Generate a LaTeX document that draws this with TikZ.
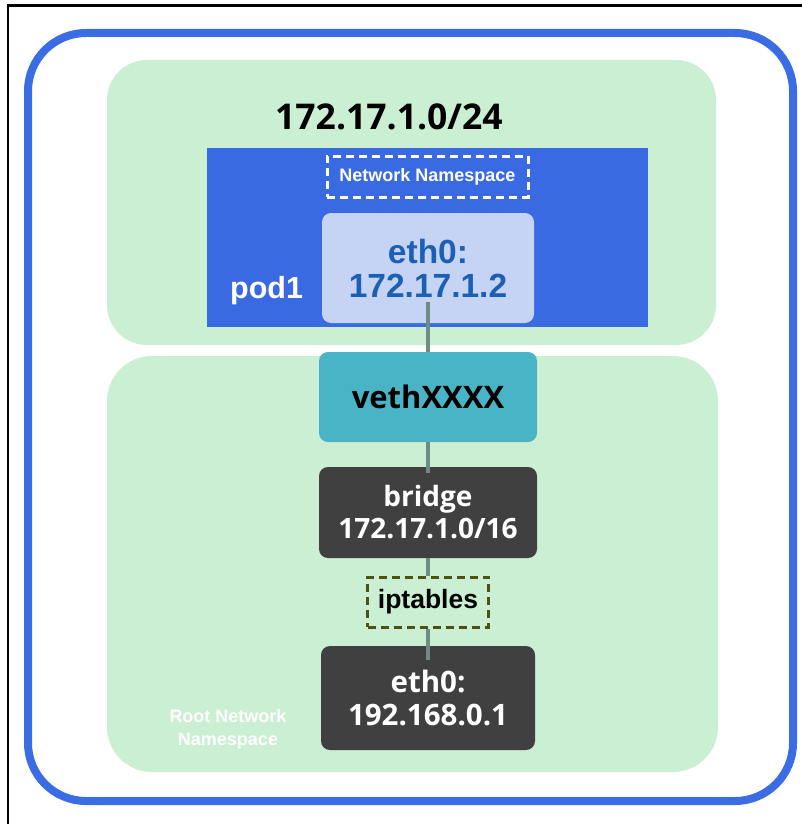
\documentclass[tikz,border=0pt]{standalone}
\usepackage{fontspec}
\setmainfont{Liberation Sans}
\newfontfamily\osans{Open Sans}
\definecolor{outerblue}{RGB}{58,108,228}
\definecolor{podblue}{RGB}{57,106,225}
\definecolor{nsgreen}{RGB}{203,239,210}
\definecolor{ethlight}{RGB}{197,212,245}
\definecolor{ethtext}{RGB}{28,95,180}
\definecolor{vethteal}{RGB}{74,180,199}
\definecolor{darkbox}{RGB}{64,64,64}
\definecolor{olive}{RGB}{75,82,22}
\definecolor{connline}{RGB}{110,140,130}
\begin{document}
\begin{tikzpicture}[x=1pt,y=-1pt,
  box/.style={rectangle, rounded corners=9pt, inner sep=0pt, align=center},
  conn/.style={draw=connline, line width=4.5pt},
  dashbox/.style={rectangle, inner sep=0pt, line width=3pt, dash pattern=on 8pt off 5pt}]
\useasboundingbox (0,0) rectangle (801,824);
\fill[white] (0,0) rectangle (801,824);
% outer frame (left and top edges)
\draw[line width=2.5pt] (8,830) -- (8,5.5) -- (810,5.5);
% outer blue rounded rectangle
\draw[outerblue, line width=8pt, rounded corners=58pt] (28,33) rectangle (793,801);
% green namespace areas
\fill[nsgreen, rounded corners=40pt] (107,60) rectangle (716,345);
\fill[nsgreen, rounded corners=45pt] (107,356) rectangle (718,772);
% subnet label
\node[anchor=base west, inner sep=0pt, font=\osans\bfseries\fontsize{35.5}{37}\selectfont] (subnet) at (275,130) {172.17.1.0/24};
% pod
\node[rectangle, fill=podblue, minimum width=441pt, minimum height=179pt, inner sep=0pt] (pod) at (427.5,237.5) {};
\node[dashbox, draw=white, minimum width=201pt, minimum height=41pt, text=white, font=\bfseries\fontsize{18}{20}\selectfont] (netns) at (427.5,176.5) {Network Namespace};
\node[anchor=base west, inner sep=0pt, text=white, font=\bfseries\fontsize{30.5}{32}\selectfont] (podlabel) at (230,298) {pod1};
\node[box, fill=ethlight, minimum width=212pt, minimum height=110pt, text=ethtext, font=\bfseries\fontsize{33.5}{34}\selectfont] (ethpod) at (428,268) {eth0:\\172.17.1.2};
% root namespace nodes
\node[box, fill=vethteal, minimum width=218pt, minimum height=90pt, font=\osans\bfseries\fontsize{31}{34}\selectfont] (veth) at (428,397) {vethXXXX};
\node[box, fill=darkbox, minimum width=218pt, minimum height=91pt, text=white, font=\osans\bfseries\fontsize{28}{32}\selectfont] (bridge) at (428,512.5) {bridge\\172.17.1.0/16};
\node[dashbox, draw=olive, fill=nsgreen, minimum width=121pt, minimum height=50pt, font=\bfseries\fontsize{26.5}{28}\selectfont] (ipt) at (428,602) {iptables};
\node[box, fill=darkbox, minimum width=214pt, minimum height=104pt, text=white, font=\osans\bfseries\fontsize{29.5}{33}\selectfont] (ethroot) at (428,698) {eth0:\\192.168.0.1};
\node[inner sep=0pt, align=center, text=white, font=\bfseries\fontsize{18}{23}\selectfont] (rootlabel) at (228,729) {Root Network\\Namespace};
% connectors
\draw[conn, shorten <=-21pt] (ethpod.south) -- (veth.north);
\draw[conn, shorten >=-6pt] (veth.south) -- (bridge.north);
\draw[conn] (bridge.south) -- (ipt.north);
\draw[conn, shorten >=-14pt] (ipt.south) -- (ethroot.north);
\end{tikzpicture}
\end{document}
